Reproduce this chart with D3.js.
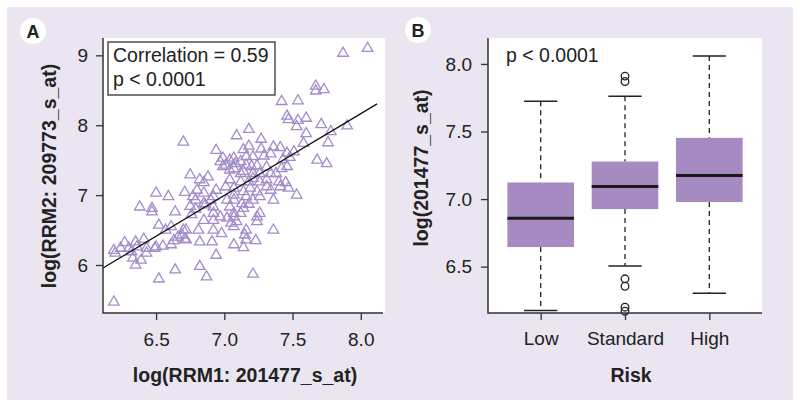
<!DOCTYPE html>
<html>
<head>
<meta charset="utf-8">
<script src="https://cdn.jsdelivr.net/npm/d3@7"></script>
<style>
  body { margin: 0; background: #fff; }
  svg { display: block; font-family: "Liberation Sans", Arial, sans-serif; }
</style>
</head>
<body>
<svg width="800" height="409"></svg>
<script>
// panel A data: RRM1 vs RRM2 (log expression)
const rrm1 = [8.05, 7.87, 7.67, 7.73, 7.67, 7.42, 7.54, 7.46, 7.47, 7.54, 7.60, 7.53, 7.71, 7.90, 7.78, 7.60,
  7.18, 7.09, 6.70, 7.27, 7.18, 7.36, 7.41, 7.58, 7.76, 6.94, 7.14, 7.27, 7.34, 7.46, 7.51,
  6.99, 7.04, 7.12, 7.21, 7.29, 7.43, 7.48, 7.68, 7.75, 7.01, 7.08, 7.16, 7.24, 7.31, 7.42,
  7.04, 7.14, 7.21, 7.34, 6.75, 6.82, 6.88, 7.04, 7.12, 7.21, 7.31, 7.40, 7.45, 7.47,
  6.85, 6.80, 6.71, 6.77, 6.94, 7.07, 7.14, 7.24, 7.34, 7.41, 7.53, 7.36,
  6.50, 6.59, 6.85, 6.92, 7.02, 7.07, 7.16, 7.26, 7.18,
  6.38, 6.47, 6.64, 6.75, 6.79, 6.86, 6.92, 6.97, 7.07, 7.14, 7.24, 7.09, 7.05,
  6.47, 6.76, 6.85, 6.92, 7.02, 7.12, 7.26,
  6.52, 6.61, 6.57, 6.70, 6.81, 6.92, 6.98, 7.07, 7.16, 7.24, 7.36, 7.15,
  6.27, 6.35, 6.41, 6.49, 6.61, 6.71, 6.66, 6.69, 6.63, 6.72, 6.82, 6.91, 7.07, 7.14, 7.16, 7.23,
  6.19, 6.20, 6.30, 6.32, 6.36, 6.43, 6.50, 6.55, 6.33, 6.39, 6.35, 6.94,
  6.82, 6.87, 6.64, 6.52, 7.21, 6.19,
  6.97, 6.99, 7.07, 7.20, 7.26, 7.12, 7.18, 7.26, 7.07, 7.13, 7.21, 7.04, 7.07, 6.72,
  6.43, 6.24, 6.90, 6.85, 6.79, 7.38, 7.19, 7.31, 7.01, 6.92, 7.46, 7.07, 7.16];
const rrm2 = [9.10, 9.03, 8.56, 8.51, 8.49, 8.34, 8.35, 8.13, 8.08, 8.07, 8.10, 7.98, 8.01, 7.99, 7.91, 7.88,
  7.94, 7.85, 7.76, 7.80, 7.70, 7.69, 7.68, 7.74, 7.75, 7.64, 7.65, 7.66, 7.59, 7.60, 7.62,
  7.53, 7.50, 7.48, 7.55, 7.56, 7.51, 7.54, 7.50, 7.45, 7.43, 7.45, 7.43, 7.42, 7.40, 7.38,
  7.36, 7.34, 7.31, 7.31, 7.29, 7.22, 7.26, 7.22, 7.19, 7.24, 7.22, 7.19, 7.18, 7.10,
  7.18, 7.07, 7.04, 6.98, 7.07, 7.10, 7.05, 7.05, 7.07, 7.12, 7.00, 6.93,
  7.03, 6.98, 7.03, 6.98, 6.93, 7.00, 6.98, 6.98, 6.87,
  6.83, 6.81, 6.76, 6.84, 6.80, 6.86, 6.74, 6.69, 6.74, 6.81, 6.69, 6.62, 6.60,
  6.76, 6.72, 6.64, 6.64, 6.67, 6.74, 6.74,
  6.57, 6.55, 6.50, 6.50, 6.50, 6.50, 6.45, 6.55, 6.50, 6.62, 6.50, 6.43,
  6.32, 6.33, 6.37, 6.24, 6.29, 6.37, 6.40, 6.43, 6.35, 6.36, 6.33, 6.33, 6.29, 6.25, 6.36, 6.35,
  6.21, 6.17, 6.24, 6.19, 6.26, 6.24, 6.26, 6.27, 6.10, 6.07, 6.00, 6.14,
  5.98, 5.83, 5.93, 5.80, 5.87, 5.47,
  7.48, 7.41, 7.53, 7.41, 7.31, 7.31, 7.19, 7.19, 6.93, 6.88, 6.93, 6.83, 6.69, 6.50,
  6.17, 6.24, 6.93, 6.88, 6.93, 7.31, 7.10, 7.12, 7.12, 6.83, 7.41, 7.38, 7.55];
const xTicksA = [6.5, 7.0, 7.5, 8.0];
const yTicksA = [6, 7, 8, 9];
// fitted line
const fitIntercept = -1.187, fitSlope = 1.169, fitXmax = 8.12;
const statLinesA = ["Correlation = 0.59", "p < 0.0001"];

// panel B data: boxplot summaries per risk group
const riskGroups = ["Low", "Standard", "High"];
const lowerWhisker = [6.175, 6.505, 6.303];
const q1 = [6.645, 6.926, 6.978];
const median = [6.859, 7.093, 7.175];
const q3 = [7.123, 7.278, 7.453];
const upperWhisker = [7.724, 7.761, 8.059];
const outliers = [[], [7.91, 7.87, 6.41, 6.355, 6.20, 6.17], []];
const yTicksB = [6.5, 7.0, 7.5, 8.0];

const bg = "#ebe5f1", purple = "#a38cc9", boxFill = "#a68bc3", ink = "#222";

let svg = d3.select("svg");
svg.append("rect").attr("x", 7).attr("y", 7).attr("width", 786).attr("height", 393).attr("fill", bg);

function panelLabel(cx, cy, txt) {
  svg.append("circle").attr("cx", cx).attr("cy", cy).attr("r", 13).attr("fill", "#fff");
  svg.append("text").attr("x", cx).attr("y", cy + 6.5).attr("text-anchor", "middle")
    .attr("font-size", 18).attr("font-weight", "bold").attr("fill", ink).text(txt);
}

function styleAxis(g) {
  g.select(".domain").remove();
  g.selectAll(".tick line").attr("stroke", "#333").attr("stroke-width", 1.3);
  g.selectAll(".tick text").attr("font-size", 19).attr("fill", ink)
    .attr("font-family", "Liberation Sans, Arial, sans-serif");
}

// ---------- panel A ----------
const A = { l: 103, r: 385, t: 38, b: 313 };
let xA = d3.scaleLinear().domain([6.111, 8.163]).range([A.l, 383]);
let yA = d3.scaleLinear().domain([5.313, 9.248]).range([A.b, A.t]);

svg.append("rect").attr("x", A.l).attr("y", A.t).attr("width", A.r - A.l).attr("height", A.b - A.t).attr("fill", "#fff");

let pts = svg.append("g");
pts.selectAll("path").data(rrm1.map((d, i) => [d, rrm2[i]])).join("path")
  .attr("d", d3.symbol(d3.symbolTriangle, 48))
  .attr("transform", d => `translate(${xA(d[0])},${yA(d[1])})`)
  .attr("fill", "none").attr("stroke", purple).attr("stroke-width", 1.3);

let fitLine = d3.line().x(d => xA(d)).y(d => yA(fitIntercept + fitSlope * d));
svg.append("path").attr("d", fitLine([xA.domain()[0], fitXmax]))
  .attr("stroke", "#111").attr("stroke-width", 1.3).attr("fill", "none");

svg.append("rect").attr("x", 108).attr("y", 42).attr("width", 167).attr("height", 53)
  .attr("fill", "#fff").attr("stroke", "#333").attr("stroke-width", 1.3);
svg.append("text").attr("font-size", 19.5).attr("fill", ink)
  .selectAll("tspan").data(statLinesA).join("tspan")
  .attr("x", 113).attr("y", (d, i) => 62 + i * 23.5).text(d => d);

svg.append("path").attr("d", `M${A.l},${A.t}V${A.b}H383`).attr("stroke", "#333").attr("stroke-width", 1.5).attr("fill", "none");
svg.append("g").attr("transform", `translate(0,${A.b})`)
  .call(d3.axisBottom(xA).tickValues(xTicksA).tickFormat(d3.format(".1f")).tickSize(7).tickPadding(13))
  .call(styleAxis);
svg.append("g").attr("transform", `translate(${A.l},0)`)
  .call(d3.axisLeft(yA).tickValues(yTicksA).tickFormat(d3.format("d")).tickSize(7).tickPadding(8))
  .call(styleAxis);

svg.append("text").attr("x", 245).attr("y", 382).attr("text-anchor", "middle")
  .attr("font-size", 19.5).attr("font-weight", "bold").attr("fill", ink).text("log(RRM1: 201477_s_at)");
svg.append("text").attr("transform", "translate(56,176) rotate(-90)").attr("text-anchor", "middle")
  .attr("font-size", 19.5).attr("font-weight", "bold").attr("fill", ink).text("log(RRM2: 209773_s_at)");
panelLabel(33, 31, "A");

// ---------- panel B ----------
const B = { l: 488, r: 762, t: 38, b: 313 };
let xB = d3.scalePoint().domain(riskGroups).range([B.l, B.r]).padding(0.625);
let yB = d3.scaleLinear().domain([6.157, 8.192]).range([B.b, B.t]);
const boxW = xB.step() * 0.79;

svg.append("rect").attr("x", B.l).attr("y", B.t).attr("width", B.r - B.l).attr("height", B.b - B.t).attr("fill", "#fff");

let boxes = svg.append("g").selectAll("g").data(riskGroups).join("g")
  .attr("transform", d => `translate(${xB(d)},0)`);
// whiskers
boxes.append("line").attr("y1", (d, i) => yB(upperWhisker[i])).attr("y2", (d, i) => yB(q3[i]))
  .attr("stroke", ink).attr("stroke-width", 1.3).attr("stroke-dasharray", "5,4");
boxes.append("line").attr("y1", (d, i) => yB(q1[i])).attr("y2", (d, i) => yB(lowerWhisker[i]))
  .attr("stroke", ink).attr("stroke-width", 1.3).attr("stroke-dasharray", "5,4");
boxes.append("line").attr("x1", -boxW / 4).attr("x2", boxW / 4)
  .attr("y1", (d, i) => yB(upperWhisker[i])).attr("y2", (d, i) => yB(upperWhisker[i]))
  .attr("stroke", ink).attr("stroke-width", 1.5);
boxes.append("line").attr("x1", -boxW / 4).attr("x2", boxW / 4)
  .attr("y1", (d, i) => yB(lowerWhisker[i])).attr("y2", (d, i) => yB(lowerWhisker[i]))
  .attr("stroke", ink).attr("stroke-width", 1.5);
boxes.append("rect").attr("x", -boxW / 2).attr("width", boxW)
  .attr("y", (d, i) => yB(q3[i])).attr("height", (d, i) => yB(q1[i]) - yB(q3[i]))
  .attr("fill", boxFill);
boxes.append("line").attr("x1", -boxW / 2).attr("x2", boxW / 2)
  .attr("y1", (d, i) => yB(median[i])).attr("y2", (d, i) => yB(median[i]))
  .attr("stroke", "#1a1a1a").attr("stroke-width", 3);
boxes.selectAll("circle").data((d, i) => outliers[i]).join("circle")
  .attr("cy", d => yB(d)).attr("r", 3.8)
  .attr("fill", "none").attr("stroke", ink).attr("stroke-width", 1.3);

svg.append("text").attr("x", 506).attr("y", 62).attr("font-size", 19.5).attr("fill", ink).text("p < 0.0001");

svg.append("path").attr("d", `M${B.l},${B.t}V${B.b}H${B.r}`).attr("stroke", "#333").attr("stroke-width", 1.5).attr("fill", "none");
svg.append("g").attr("transform", `translate(0,${B.b})`)
  .call(d3.axisBottom(xB).tickSize(7).tickPadding(12))
  .call(styleAxis);
svg.append("g").attr("transform", `translate(${B.l},0)`)
  .call(d3.axisLeft(yB).tickValues(yTicksB).tickFormat(d3.format(".1f")).tickSize(7).tickPadding(9))
  .call(styleAxis);

svg.append("text").attr("x", 631).attr("y", 382).attr("text-anchor", "middle")
  .attr("font-size", 19.5).attr("font-weight", "bold").attr("fill", ink).text("Risk");
svg.append("text").attr("transform", "translate(428,168) rotate(-90)").attr("text-anchor", "middle")
  .attr("font-size", 19.5).attr("font-weight", "bold").attr("fill", ink).text("log(201477_s_at)");
panelLabel(418, 30, "B");
</script>
</body>
</html>
